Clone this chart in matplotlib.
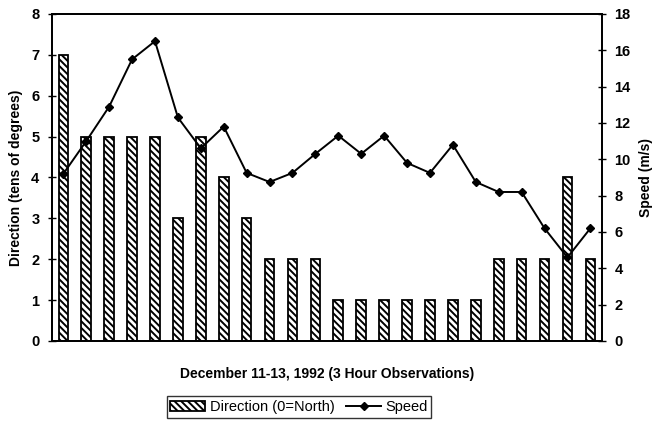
import numpy as np
import matplotlib.pyplot as plt

plt.rcParams['font.family'] = ['Liberation Sans', 'DejaVu Sans']
plt.rcParams['hatch.linewidth'] = 1.4

direction = [7, 5, 5, 5, 5, 3, 5, 4, 3, 2, 2, 2, 1, 1, 1, 1, 1, 1, 1, 2, 2, 2, 4, 2]
speed = [9.2, 11.0, 12.9, 15.5, 16.5, 12.3, 10.6, 11.8, 9.25, 8.75, 9.25, 10.3,
         11.3, 10.3, 11.3, 9.8, 9.25, 10.8, 8.75, 8.2, 8.2, 6.2, 4.6, 6.2]

x = np.arange(len(direction))

fig = plt.figure(figsize=(6.65, 4.22), dpi=100)
ax = fig.add_axes([0.078, 0.192, 0.827, 0.775])
ax2 = ax.twinx()

bars = ax.bar(x, direction, width=0.42, color='white', edgecolor='black',
              hatch='\\' * 5, linewidth=1.3, label='Direction (0=North)')
line, = ax2.plot(x, speed, color='black', linewidth=1.4, marker='D',
                 markersize=4.5, label='Speed')

ax.set_xlim(-0.5, len(direction) - 0.5)
ax.set_ylim(0, 8)
ax2.set_ylim(0, 18)
ax.set_yticks(range(0, 9))
ax2.set_yticks(range(0, 19, 2))
ax.set_xticks([])

for a in (ax, ax2):
    a.tick_params(axis='y', direction='inout', length=6, width=1.0,
                  labelsize=10.5, pad=6)
    for lab in a.get_yticklabels():
        lab.set_fontweight('bold')
    for s in a.spines.values():
        s.set_linewidth(1.3)

ax.set_ylabel('Direction (tens of degrees)', fontsize=10, fontweight='bold', labelpad=6)
ax2.set_ylabel('Speed (m/s)', fontsize=10, fontweight='bold', rotation=90, labelpad=6)
ax.set_xlabel('December 11-13, 1992 (3 Hour Observations)', fontsize=10,
              fontweight='bold', labelpad=19)

leg = fig.legend([bars, line], ['Direction (0=North)', 'Speed'],
                 loc='center', bbox_to_anchor=(299 / 665, 1 - 407 / 422),
                 ncol=2, fontsize=10.5, frameon=True, fancybox=False,
                 edgecolor='black', handlelength=2.4, handletextpad=0.3,
                 columnspacing=0.8, borderpad=0.25)
leg.get_frame().set_linewidth(1.0)

plt.savefig('out.png', dpi=100)
